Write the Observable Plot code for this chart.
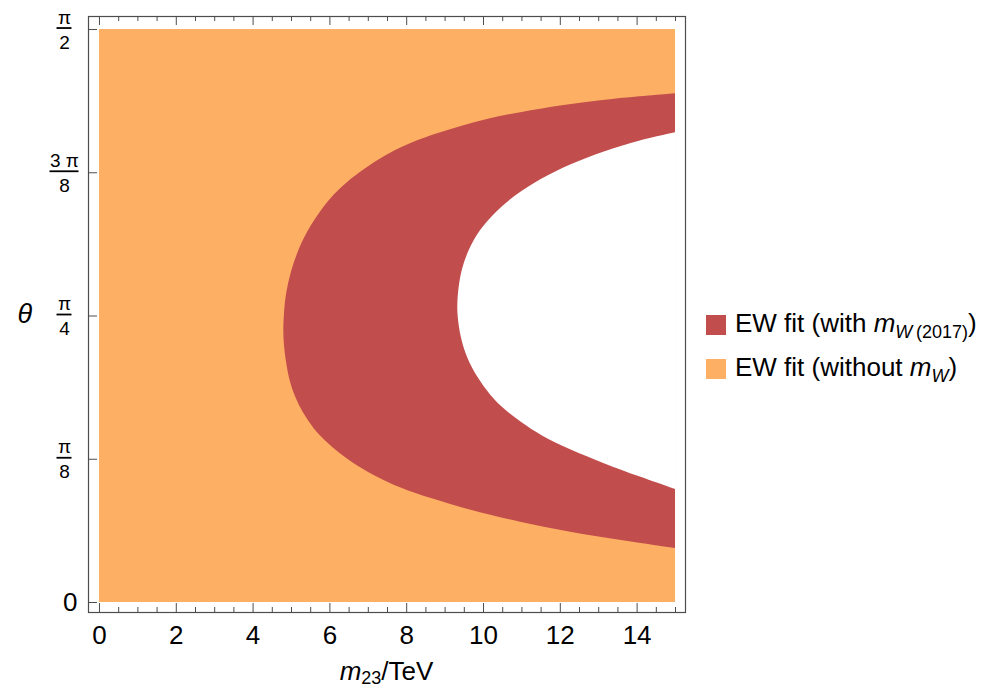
<!DOCTYPE html>
<html>
<head>
<meta charset="utf-8">
<script src="https://cdn.jsdelivr.net/npm/d3@7"></script>
<script src="https://cdn.jsdelivr.net/npm/@observablehq/plot@0.6"></script>
<style>
  html, body { margin: 0; padding: 0; background: #fff; }
  #wrap { position: relative; width: 983px; height: 690px; font-family: "Liberation Sans", Arial, sans-serif; }
  #legend { position: absolute; left: 706px; top: 303px; font-size: 26px; color: #000; white-space: nowrap; }
  .row { display: flex; align-items: center; height: 44px; }
  .sw { width: 20px; height: 20px; margin-right: 9px; flex: none; }
  sub { font-size: 18px; vertical-align: -6px; }
</style>
</head>
<body>
<div id="wrap"><div id="chart"></div><div id="legend"></div></div>
<script>
// ---- data ----
const xMin = 0, xMax = 15;
const thetaMin = 0, thetaMax = Math.PI / 2;
// outer boundary of the "with m_W (2017)" region (x in TeV, theta in rad)
const outerX     = [15.0, 14.09, 13.05, 12.01, 10.96, 10.18, 9.40, 8.62, 7.97, 7.45, 6.93, 6.41, 6.02, 5.68, 5.36, 5.13, 4.95, 4.84, 4.82, 4.79, 4.82, 4.87, 4.95, 5.10, 5.31, 5.57, 5.89, 6.28, 6.72, 7.24, 7.84, 8.62, 9.66, 10.96, 12.27, 13.57, 15.0];
const outerTheta = [1.395, 1.387, 1.376, 1.362, 1.343, 1.327, 1.305, 1.280, 1.253, 1.225, 1.190, 1.149, 1.108, 1.061, 1.006, 0.951, 0.891, 0.828, 0.795, 0.746, 0.696, 0.658, 0.609, 0.562, 0.518, 0.477, 0.441, 0.406, 0.373, 0.343, 0.313, 0.285, 0.252, 0.219, 0.192, 0.170, 0.148];
// inner boundary (white, excluded region to the right)
const innerX     = [15.0, 14.09, 13.13, 12.27, 11.48, 10.83, 10.31, 9.90, 9.61, 9.43, 9.35, 9.32, 9.35, 9.43, 9.58, 9.84, 10.18, 10.57, 11.02, 11.48, 12.27, 13.13, 14.09, 15.0];
const innerTheta = [1.288, 1.267, 1.236, 1.201, 1.160, 1.116, 1.069, 1.020, 0.965, 0.910, 0.855, 0.809, 0.768, 0.718, 0.669, 0.617, 0.567, 0.526, 0.491, 0.458, 0.417, 0.381, 0.343, 0.310];
// ticks
const xMajor = [0, 2, 4, 6, 8, 10, 12, 14];
const xMinor = [0.5, 1, 1.5, 2.5, 3, 3.5, 4.5, 5, 5.5, 6.5, 7, 7.5, 8.5, 9, 9.5, 10.5, 11, 11.5, 12.5, 13, 13.5, 14.5, 15];
const yTicks = [0, Math.PI / 8, Math.PI / 4, 3 * Math.PI / 8, Math.PI / 2];
const yNum   = ["", "π", "π", "3 π", "π"];
const yDen   = ["", "8", "4", "8", "2"];
const seriesNames = ["EW fit (with m_W(2017))", "EW fit (without m_W)"];
const seriesColors = ["#C24D4D", "#FDAF64"];

const outer = outerX.map((x, i) => ({x, t: outerTheta[i]}));
const inner = innerX.map((x, i) => ({x, t: innerTheta[i]}));
const box = [{x1: xMin, x2: xMax, y1: thetaMin, y2: thetaMax}];

const W = 700, H = 690, mL = 88, mR = 15, mT = 16, mB = 78;
const frameW = W - mL - mR, frameH = H - mT - mB;
const font = "Liberation Sans, Arial, sans-serif";

const plot = Plot.plot({
  width: W, height: H,
  marginLeft: mL, marginRight: mR, marginTop: mT, marginBottom: mB,
  style: {fontFamily: font, background: "white", overflow: "visible"},
  x: {domain: [-0.286, 15.26], axis: null},
  y: {domain: [-0.0274, 1.6065], axis: null},
  marks: [
    Plot.rect(box, {x1: "x1", x2: "x2", y1: "y1", y2: "y2", fill: seriesColors[1]}),
    Plot.areaX(outer, {y: "t", x1: "x", x2: () => xMax, fill: seriesColors[0], curve: "basis"}),
    Plot.areaX(inner, {y: "t", x1: "x", x2: () => xMax, fill: "white", curve: "basis"}),
    Plot.frame({stroke: "#4d4d4d", strokeWidth: 1.2}),
    // bottom ticks (inward)
    Plot.tickX(xMajor, {x: d => d, insetTop: frameH - 9, stroke: "#4d4d4d"}),
    Plot.tickX(xMinor, {x: d => d, insetTop: frameH - 5, stroke: "#4d4d4d"}),
    // top ticks (inward)
    Plot.tickX(xMajor, {x: d => d, insetBottom: frameH - 9, stroke: "#4d4d4d"}),
    Plot.tickX(xMinor, {x: d => d, insetBottom: frameH - 5, stroke: "#4d4d4d"}),
    // left ticks (inward)
    Plot.tickY(yTicks, {y: d => d, insetRight: frameW - 9, stroke: "#4d4d4d"}),
    // x tick labels
    Plot.text(xMajor, {x: d => d, frameAnchor: "bottom", dy: 23, text: d => String(d), fontSize: 26, lineAnchor: "middle"}),
    // y zero label
    Plot.text([0], {y: d => d, frameAnchor: "left", dx: -11, text: () => "0", fontSize: 26, textAnchor: "end"}),
    // y fraction numerators / denominators
    Plot.text(yTicks.slice(1), {y: d => d, frameAnchor: "left", dx: -24, dy: -12, text: (d, i) => yNum[i + 1], fontSize: 19, textAnchor: "middle", lineAnchor: "middle"}),
    Plot.text(yTicks.slice(1), {y: d => d, frameAnchor: "left", dx: -24, dy: 13, text: (d, i) => yDen[i + 1], fontSize: 19, textAnchor: "middle", lineAnchor: "middle"}),
    // theta label
    Plot.text(["θ"], {frameAnchor: "left", dx: -71, text: d => d, fontSize: 27, fontStyle: "italic"})
  ]
});
document.getElementById("chart").appendChild(plot);

// fraction bars, positioned with the plot's scales
const sy = plot.scale("y");
const svg = d3.select(plot);
yTicks.slice(1).forEach((v, i) => {
  const y = sy.apply(v) - 1;
  const half = yNum[i + 1].length > 1 ? 14.5 : 7.5;
  svg.append("line").attr("x1", mL - 24 - half).attr("x2", mL - 24 + half)
    .attr("y1", y).attr("y2", y).attr("stroke", "#000").attr("stroke-width", 1.8);
});
// x axis title with subscript
const t = svg.append("text").attr("x", mL + frameW / 2).attr("y", 680)
  .attr("text-anchor", "middle").attr("font-family", font).attr("font-size", 26);
t.append("tspan").attr("font-style", "italic").text("m");
t.append("tspan").attr("font-size", 18).attr("dy", 4).text("23");
t.append("tspan").attr("dy", -4).text("/TeV");

// legend
const leg = d3.select("#legend");
const labels = [
  'EW fit (with <i>m</i><sub><i>W</i>&#8239;(2017)</sub>)',
  'EW fit (without <i>m</i><sub><i>W</i></sub>)'
];
labels.forEach((html, i) => {
  const r = leg.append("div").attr("class", "row");
  r.append("div").attr("class", "sw").style("background", seriesColors[i]);
  r.append("div").html(html);
});
</script>
</body>
</html>
